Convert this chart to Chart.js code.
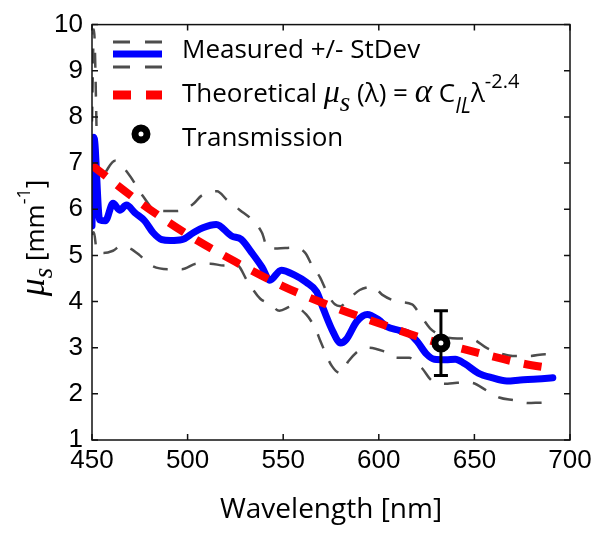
<!DOCTYPE html>
<html>
<head>
<meta charset="utf-8">
<script src="https://cdn.jsdelivr.net/npm/chart.js@4.4.1/dist/chart.umd.min.js"></script>
<style>
  html, body { margin: 0; padding: 0; background: #fff; }
</style>
</head>
<body>
<canvas id="c" width="600" height="533"></canvas>
<script>
// measured scattering coefficient (mean)
const measWl = [450, 451, 454, 457, 461, 464.5, 468, 472.5, 477.5, 482, 486.5, 491, 497, 503, 508, 515, 523, 528, 533.5, 539, 543, 549, 556, 562, 567.5, 571, 576, 580, 583, 588.5, 594, 600, 604, 611, 616, 620, 625, 629, 635, 640, 645, 652, 659, 667, 674, 683, 691];
const measMu = [5.64, 7.56, 5.77, 5.75, 6.13, 5.98, 6.09, 5.92, 5.75, 5.49, 5.34, 5.32, 5.34, 5.49, 5.60, 5.67, 5.42, 5.35, 5.06, 4.74, 4.46, 4.68, 4.57, 4.42, 4.21, 3.84, 3.35, 3.10, 3.18, 3.57, 3.72, 3.60, 3.46, 3.37, 3.30, 3.14, 2.86, 2.75, 2.74, 2.75, 2.65, 2.45, 2.35, 2.28, 2.30, 2.32, 2.35];

// mean + stdev
const upWl = [450, 451, 453.3, 457, 462, 469, 476.7, 483, 490, 494.5, 502.3, 507.5, 515.4, 520.6, 527.4, 533.7, 538.9, 542, 547, 555, 561.4, 565.6, 569.2, 573.4, 577, 580, 584, 590, 597, 601.7, 609.5, 617.4, 621.5, 626.8, 630.4, 636, 641, 647.7, 656.6, 665, 670, 679, 687, 691];
const upMu = [7.9, 9.9, 6.56, 6.8, 7.05, 6.77, 6.28, 5.98, 5.96, 5.96, 6.09, 6.30, 6.39, 6.2, 5.98, 5.77, 5.49, 5.15, 5.15, 5.17, 5.06, 4.74, 4.53, 4.15, 3.94, 3.9, 4.04, 4.25, 4.32, 4.15, 4.0, 3.94, 3.72, 3.42, 3.31, 3.22, 3.2, 3.2, 2.99, 2.86, 2.82, 2.82, 2.86, 2.86];

// mean - stdev
const loWl = [450, 451, 452.5, 456, 461, 465, 470, 475, 481, 490, 497, 505, 512, 519, 526, 531, 538, 543, 548, 555, 562, 567, 569.5, 575.5, 580, 584, 590, 594, 602, 609.5, 616, 622.5, 628, 636, 641, 648, 656.5, 663, 671, 678, 686, 691];
const loMu = [5.45, 5.5, 5.1, 5.05, 5.1, 5.2, 5.15, 5.0, 4.78, 4.70, 4.70, 4.82, 4.82, 4.78, 4.78, 4.46, 4.06, 3.95, 3.8, 3.9, 3.72, 3.4, 3.14, 2.6, 2.45, 2.7, 2.95, 3.0, 2.93, 2.78, 2.78, 2.56, 2.28, 2.22, 2.24, 2.24, 2.07, 1.92, 1.86, 1.8, 1.81, 1.81];

// theoretical power law
const theoWl = [450, 475, 500, 525, 550, 575, 600, 625, 650, 675, 692];
const theoMu = [6.95, 6.15, 5.45, 4.86, 4.33, 3.9, 3.53, 3.18, 2.91, 2.66, 2.54];

// transmission measurement
const transWl = [632.5];
const transMu = [3.1];
const transErr = [0.7];

const xTicks = [450, 500, 550, 600, 650, 700];
const yTicks = [1, 2, 3, 4, 5, 6, 7, 8, 9, 10];

const pts = (xs, ys) => xs.map((x, i) => ({ x: x, y: ys[i] }));

const SANS = '"Open Sans", sans-serif';
const SERIF = '"Liberation Serif", serif';
const GRAY = '#4d4d4d';

// draws a row of text pieces: [text, font, dy]
function rich(ctx, segs, x, y, measureOnly) {
  let cx = x;
  segs.forEach(s => {
    ctx.font = s[1];
    if (!measureOnly) ctx.fillText(s[0], cx, y + (s[2] || 0));
    cx += ctx.measureText(s[0]).width;
  });
  return cx - x;
}

const frame = {
  id: 'frame',
  afterDraw(chart) {
    const { ctx, chartArea: a, scales: { x, y } } = chart;
    ctx.save();
    ctx.strokeStyle = '#111';
    ctx.lineWidth = 1.5;
    ctx.strokeRect(a.left, a.top, a.right - a.left, a.bottom - a.top);
    ctx.beginPath();
    xTicks.forEach(v => {
      const p = x.getPixelForValue(v);
      ctx.moveTo(p, a.bottom); ctx.lineTo(p, a.bottom - 6);
      ctx.moveTo(p, a.top); ctx.lineTo(p, a.top + 6);
    });
    yTicks.forEach(v => {
      const p = y.getPixelForValue(v);
      ctx.moveTo(a.left, p); ctx.lineTo(a.left + 6, p);
      ctx.moveTo(a.right, p); ctx.lineTo(a.right - 6, p);
    });
    ctx.stroke();

    ctx.fillStyle = '#000';
    ctx.textBaseline = 'alphabetic';
    ctx.textAlign = 'left';

    // x title
    ctx.font = '28px ' + SANS;
    ctx.textAlign = 'center';
    ctx.fillText('Wavelength [nm]', (a.left + a.right) / 2, 518);
    ctx.textAlign = 'left';

    // y title
    const ySegs = [
      ['\u03bc', 'italic 36px ' + SERIF, 0],
      ['s', 'italic 27px ' + SERIF, 8],
      [' [mm', '26px ' + SANS, 0],
      ['-1', '18px ' + SANS, -14],
      [']', '26px ' + SANS, 0]
    ];
    ctx.save();
    ctx.translate(44, 238);
    ctx.rotate(-Math.PI / 2);
    const w = rich(ctx, ySegs, 0, 0, true);
    rich(ctx, ySegs, -w / 2, 0);
    ctx.restore();

    // legend
    const lx0 = 113, lx1 = 162, tx = 182;
    ctx.lineCap = 'butt';
    ctx.strokeStyle = GRAY; ctx.lineWidth = 3; ctx.setLineDash([17, 15]);
    [42, 67].forEach(yy => { ctx.beginPath(); ctx.moveTo(lx0, yy); ctx.lineTo(lx1, yy); ctx.stroke(); });
    ctx.setLineDash([]);
    ctx.strokeStyle = '#0000ff'; ctx.lineWidth = 7;
    ctx.beginPath(); ctx.moveTo(lx0, 54); ctx.lineTo(lx1, 54); ctx.stroke();
    ctx.strokeStyle = '#ff0000'; ctx.lineWidth = 9; ctx.setLineDash([18, 15]);
    ctx.beginPath(); ctx.moveTo(lx0, 95); ctx.lineTo(lx1, 95); ctx.stroke();
    ctx.setLineDash([]);
    ctx.beginPath(); ctx.arc(141, 134, 6, 0, Math.PI * 2);
    ctx.fillStyle = '#fff'; ctx.fill();
    ctx.strokeStyle = '#000'; ctx.lineWidth = 7; ctx.stroke();

    ctx.fillStyle = '#000';
    rich(ctx, [['Measured +/- StDev', '26px ' + SANS, 0]], tx, 58);
    rich(ctx, [
      ['Theoretical ', '26px ' + SANS, 0],
      ['\u03bc', 'italic 32px ' + SERIF, 0],
      ['s', 'italic 27px ' + SERIF, 9],
      [' (\u03bb) = ', '26px ' + SANS, 0],
      ['\u03b1', 'italic 33px ' + SERIF, 0],
      [' C', '26px ' + SANS, 0],
      ['IL', 'italic 21px ' + SANS, 11],
      ['\u03bb', '26px ' + SANS, 0],
      ['-2.4', '20px ' + SANS, -14]
    ], tx, 102);
    rich(ctx, [['Transmission', '26px ' + SANS, 0]], tx, 146);
    ctx.restore();
  }
};

const errTop = transMu.map((v, i) => v + transErr[i]);
const errBot = transMu.map((v, i) => v - transErr[i]);

const tickFont = { family: '"Liberation Sans", Arial, sans-serif', size: 26 };

new Chart(document.getElementById('c'), {
  type: 'line',
  data: {
    datasets: [
      {
        label: 'Transmission',
        data: pts(transWl, transMu),
        showLine: false,
        pointRadius: 6, pointBorderWidth: 7,
        pointBackgroundColor: '#fff', pointBorderColor: '#000'
      },
      {
        label: 'error',
        data: pts(transWl.concat(transWl), errTop.concat(errBot)),
        borderColor: '#000', borderWidth: 3,
        pointStyle: 'line', pointRadius: 7, pointBorderWidth: 3, pointBorderColor: '#000'
      },
      {
        label: 'Theoretical',
        data: pts(theoWl, theoMu),
        borderColor: '#ff0000', borderWidth: 8, borderDash: [18, 14],
        borderCapStyle: 'butt', pointRadius: 0, cubicInterpolationMode: 'monotone'
      },
      {
        label: 'Measured',
        data: pts(measWl, measMu),
        borderColor: '#0000ff', borderWidth: 7,
        borderJoinStyle: 'round', borderCapStyle: 'round',
        pointRadius: 0, cubicInterpolationMode: 'monotone'
      },
      {
        label: 'Lower',
        data: pts(loWl, loMu),
        borderColor: GRAY, borderWidth: 2.5, borderDash: [15, 14],
        pointRadius: 0, cubicInterpolationMode: 'monotone'
      },
      {
        label: 'Upper',
        data: pts(upWl, upMu),
        borderColor: GRAY, borderWidth: 2.5, borderDash: [15, 14],
        pointRadius: 0, cubicInterpolationMode: 'monotone'
      }
    ]
  },
  options: {
    responsive: false,
    animation: false,
    devicePixelRatio: 1,
    layout: { padding: { left: 0, top: 19, right: 30, bottom: 0 } },
    plugins: { legend: { display: false }, tooltip: { enabled: false } },
    scales: {
      x: {
        type: 'linear', min: 450, max: 700,
        grid: { display: false, drawTicks: false },
        border: { display: false },
        afterBuildTicks: s => { s.ticks = xTicks.map(v => ({ value: v })); },
        afterFit: s => { s.height = 93; },
        ticks: { color: '#000', padding: 5, maxRotation: 0, font: tickFont }
      },
      y: {
        type: 'linear', min: 1, max: 10,
        grid: { display: false, drawTicks: false },
        border: { display: false },
        afterBuildTicks: s => { s.ticks = yTicks.map(v => ({ value: v })); },
        afterFit: s => { s.width = 92; },
        ticks: { color: '#000', padding: 9, font: tickFont }
      }
    }
  },
  plugins: [frame]
});
</script>
</body>
</html>
